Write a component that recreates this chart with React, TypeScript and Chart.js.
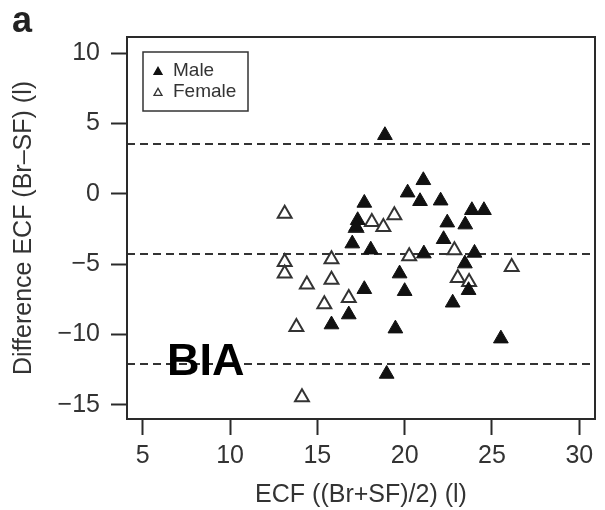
import React, { useEffect, useRef } from "react";
import { Chart, registerables } from "chart.js";

Chart.register(...registerables);

const maleX = [18.87, 21.07, 20.17, 20.88, 22.06, 17.69, 23.85, 24.54, 17.31, 17.22, 22.44, 23.47, 17.0, 18.06, 22.23, 21.1, 24.0, 23.45, 19.71, 20.0, 17.69, 23.66, 22.75, 16.8, 15.81, 19.47, 25.51, 18.97];
const maleY = [4.16, 0.96, 0.08, -0.53, -0.49, -0.65, -1.17, -1.17, -1.88, -2.36, -2.05, -2.19, -3.54, -3.97, -3.23, -4.25, -4.2, -4.96, -5.67, -6.92, -6.78, -6.85, -7.74, -8.58, -9.29, -9.58, -10.29, -12.8];

const femaleX = [13.13, 17.22, 18.12, 18.78, 19.41, 13.13, 13.13, 15.81, 15.81, 14.4, 16.8, 15.4, 13.8, 20.26, 22.85, 23.04, 23.69, 26.13, 14.12];
const femaleY = [-1.41, -2.43, -2.0, -2.36, -1.53, -4.84, -5.67, -4.65, -6.1, -6.45, -7.4, -7.85, -9.46, -4.44, -4.01, -5.98, -6.26, -5.2, -14.45];

const limitLines = [3.54, -4.27, -12.09];
const xTicks = [5, 10, 15, 20, 25, 30];
const yTicks = [-15, -10, -5, 0, 5, 10];

const X_MIN = 4.1;
const X_MAX = 30.9;
const Y_MIN = -16.0;
const Y_MAX = 11.14;

const FONT = "'Liberation Sans', Arial, Helvetica, sans-serif";
const INK = "#2a2a2a";

function triPath(ctx: CanvasRenderingContext2D, x: number, y: number, r: number) {
  ctx.beginPath();
  ctx.moveTo(x, y - r);
  ctx.lineTo(x + r * Math.sin((2 * Math.PI) / 3), y + r / 2);
  ctx.lineTo(x - r * Math.sin((2 * Math.PI) / 3), y + r / 2);
  ctx.closePath();
}

const decorPlugin = {
  id: "decor",
  afterDraw(chart: any) {
    const ctx: CanvasRenderingContext2D = chart.ctx;
    const a = chart.chartArea;
    ctx.save();
    // plot box
    ctx.strokeStyle = INK;
    ctx.lineWidth = 2;
    ctx.strokeRect(a.left, a.top, a.right - a.left, a.bottom - a.top);

    // legend
    const lx = 143, ly = 52, lw = 105, lh = 59;
    ctx.lineWidth = 1.5;
    ctx.strokeStyle = "#333";
    ctx.fillStyle = "#ffffff";
    ctx.fillRect(lx, ly, lw, lh);
    ctx.strokeRect(lx, ly, lw, lh);
    const ds = chart.data.datasets.filter((d: any) => d.showInLegend);
    ds.forEach((d: any, i: number) => {
      const cy = ly + 19 + i * 21;
      triPath(ctx, lx + 15, cy + 1, 4.6);
      ctx.fillStyle = d.backgroundColor;
      ctx.fill();
      ctx.lineWidth = 1.3;
      ctx.strokeStyle = d.borderColor;
      ctx.stroke();
      ctx.fillStyle = "#333";
      ctx.font = `19px ${FONT}`;
      ctx.textBaseline = "middle";
      ctx.textAlign = "left";
      ctx.fillText(d.label, lx + 30, cy);
    });

    // panel letter
    ctx.fillStyle = "#222";
    ctx.font = `bold 36px ${FONT}`;
    ctx.textBaseline = "alphabetic";
    ctx.fillText("a", 12, 32);

    // method label
    ctx.fillStyle = "#000";
    ctx.font = `bold 45px ${FONT}`;
    ctx.fillText("BIA", 167, 375);
    ctx.restore();
  },
};

export default function App() {
  const ref = useRef<HTMLCanvasElement | null>(null);

  useEffect(() => {
    if (!ref.current) return;
    const male = maleX.map((x, i) => ({ x, y: maleY[i] }));
    const female = femaleX.map((x, i) => ({ x, y: femaleY[i] }));
    const lines = limitLines.map((v) => ({
      type: "line" as const,
      label: "limit",
      data: [
        { x: X_MIN, y: v },
        { x: X_MAX, y: v },
      ],
      borderColor: "#333",
      borderWidth: 2,
      borderDash: [8, 5],
      pointRadius: 0,
      fill: false,
      showLine: true,
      showInLegend: false,
    }));

    const chart = new Chart(ref.current, {
      type: "scatter",
      data: {
        datasets: [
          {
            label: "Male",
            data: male,
            pointStyle: "triangle",
            pointRadius: 8.5,
            backgroundColor: "#111",
            borderColor: "#111",
            borderWidth: 1,
            showInLegend: true,
          } as any,
          {
            label: "Female",
            data: female,
            pointStyle: "triangle",
            pointRadius: 8,
            backgroundColor: "#ffffff",
            borderColor: "#333",
            borderWidth: 2,
            showInLegend: true,
          } as any,
          ...(lines as any[]),
        ],
      },
      options: {
        animation: false,
        responsive: false,
        layout: { padding: { top: 37, right: 2, left: 0, bottom: 0 } },
        plugins: {
          legend: { display: false },
          tooltip: { enabled: false },
        },
        scales: {
          x: {
            type: "linear",
            min: X_MIN,
            max: X_MAX,
            afterBuildTicks: (s: any) => {
              s.ticks = xTicks.map((v) => ({ value: v }));
            },
            afterFit: (s: any) => {
              s.height = 91;
            },
            grid: {
              drawOnChartArea: false,
              drawTicks: true,
              tickLength: 16,
              tickWidth: 2,
              tickColor: INK,
            },
            border: { display: true, color: INK, width: 2 },
            ticks: {
              color: "#333",
              font: { family: FONT, size: 25 },
              padding: 6,
              maxRotation: 0,
            },
            title: {
              display: true,
              text: "ECF ((Br+SF)/2) (l)",
              color: "#333",
              font: { family: FONT, size: 25 },
              padding: { top: 0, bottom: 0 },
            },
          },
          y: {
            type: "linear",
            min: Y_MIN,
            max: Y_MAX,
            afterBuildTicks: (s: any) => {
              s.ticks = yTicks.map((v) => ({ value: v }));
            },
            afterFit: (s: any) => {
              s.width = 127;
            },
            grid: {
              drawOnChartArea: false,
              drawTicks: true,
              tickLength: 16,
              tickWidth: 2,
              tickColor: INK,
            },
            border: { display: true, color: INK, width: 2 },
            ticks: {
              color: "#333",
              font: { family: FONT, size: 25 },
              padding: 11,
              callback: (v: any) => (Number(v) < 0 ? "\u2212" + Math.abs(Number(v)) : String(v)),
            },
            title: {
              display: true,
              text: "Difference ECF (Br\u2013SF) (l)",
              color: "#333",
              font: { family: FONT, size: 25 },
              padding: { top: 9, bottom: 0 },
            },
          },
        },
      },
      plugins: [decorPlugin],
    });
    return () => chart.destroy();
  }, []);

  return (
    <div style={{ position: "absolute", left: 0, top: 0, width: 605, height: 510, background: "#fff" }}>
      <canvas ref={ref} width={605} height={510} style={{ display: "block" }} />
    </div>
  );
}
